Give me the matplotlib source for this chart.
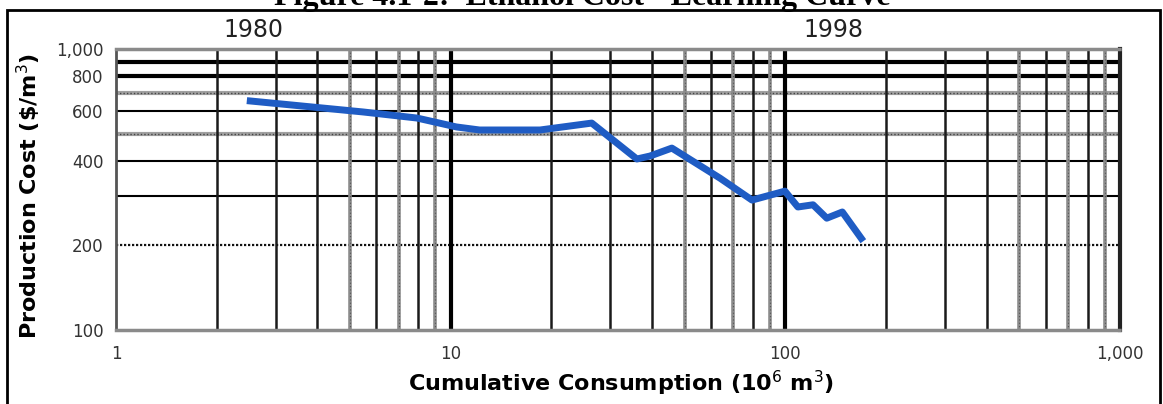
import matplotlib
matplotlib.use('Agg')
import matplotlib.pyplot as plt
from matplotlib.patches import Rectangle

# data
cum_consumption = [2.46, 5.47, 7.93, 10.4, 12.2, 18.5, 26.4, 36.0, 39.4, 45.8,
                   63.8, 79.5, 99.7, 109, 121, 133, 148, 171]
prod_cost = [655, 597, 568, 528, 515, 515, 545, 406, 416, 444,
             347, 290, 312, 274, 279, 250, 263, 207]

xticks = [1, 10, 100, 1000]
xtick_labels = ['1', '10', '100', '1,000']
yticks = [100, 200, 400, 600, 800, 1000]
ytick_labels = ['100', '200', '400', '600', '800', '1,000']

W, H = 1163, 404
fig = plt.figure(figsize=(W / 100, H / 100), dpi=100)
ax = fig.add_axes([116 / W, 1 - 330 / H, (1120 - 116) / W, (330 - 49) / H])
ax.set_xscale('log')
ax.set_yscale('log')
ax.set_xlim(1, 1000)
ax.set_ylim(100, 1000)

# horizontal grid (scan has a mix of heavy, thin and dotted rules)
for yv in [500, 700]:
    ax.axhline(yv, color='#a0a0a0', lw=3, zorder=1)
    ax.axhline(yv, color='#444444', lw=1, ls=(0, (1, 1.5)), zorder=1)
ax.axhline(200, color='#111111', lw=1.6, ls=(0, (1, 0.8)), zorder=1)
for yv in [300, 400, 600]:
    ax.axhline(yv, color='black', lw=1.5, zorder=1)
for yv in [800, 900]:
    ax.axhline(yv, color='black', lw=3, zorder=1)

# vertical grid
dark = {2, 3, 4, 6, 8, 20, 60, 80, 200, 600, 800}
for dec in [1, 10, 100]:
    for m in range(2, 10):
        xv = dec * m
        if m in dark or xv in dark:
            ax.axvline(xv, color='#1a1a1a', lw=1.8, zorder=1)
        else:
            ax.axvline(xv, color='#8c8c8c', lw=2.6, zorder=1)
            ax.axvline(xv, color='#555555', lw=0.8, ls=(0, (1, 2)), zorder=1)
for xv in [10, 100]:
    ax.axvline(xv, color='black', lw=3, zorder=1)

ax.plot(cum_consumption, prod_cost, color='#1f5cc4', lw=5, solid_joinstyle='round',
        solid_capstyle='butt', zorder=3)

for side in ['top', 'bottom']:
    ax.spines[side].set_color('#8a8a8a')
    ax.spines[side].set_linewidth(2.5)
    ax.spines[side].set_linestyle((0, (1, 1)))
ax.spines['left'].set_color('#555555')
ax.spines['left'].set_linewidth(2)
ax.spines['right'].set_color('#222222')
ax.spines['right'].set_linewidth(3)

ax.minorticks_off()
ax.set_xticks(xticks)
ax.set_xticklabels(xtick_labels)
ax.set_yticks(yticks)
ax.set_yticklabels(ytick_labels)
ax.tick_params(length=0, labelsize=12, labelcolor='#333333')
ax.tick_params(axis='x', pad=11)
ax.tick_params(axis='y', pad=9)

fig.text(621 / W, 1 - 383 / H, 'Cumulative Consumption (10$^6$ m$^3$)',
         ha='center', va='center', fontsize=16, fontweight='bold')
fig.text(29 / W, 1 - 196 / H, 'Production Cost (\\$/m$^3$)', rotation=90,
         ha='center', va='center', fontsize=16, fontweight='bold')
fig.text(253 / W, 1 - 30 / H, '1980', ha='center', va='center', fontsize=17, color='#222222')
fig.text(833 / W, 1 - 30 / H, '1998', ha='center', va='center', fontsize=17, color='#222222')

# title is cut off by the top of the scan
fig.text(582 / W, 1 - 5 / H, 'Figure 4.1-2:  Ethanol Cost - Learning Curve',
         ha='center', va='baseline', fontsize=23, fontweight='bold',
         family='Liberation Serif')

fig.add_artist(Rectangle((7 / W, -0.1), (1160 - 7) / W, 1 - 10 / H + 0.1,
                         transform=fig.transFigure, fill=False, lw=2, color='black'))

fig.savefig('out.png', dpi=100)
